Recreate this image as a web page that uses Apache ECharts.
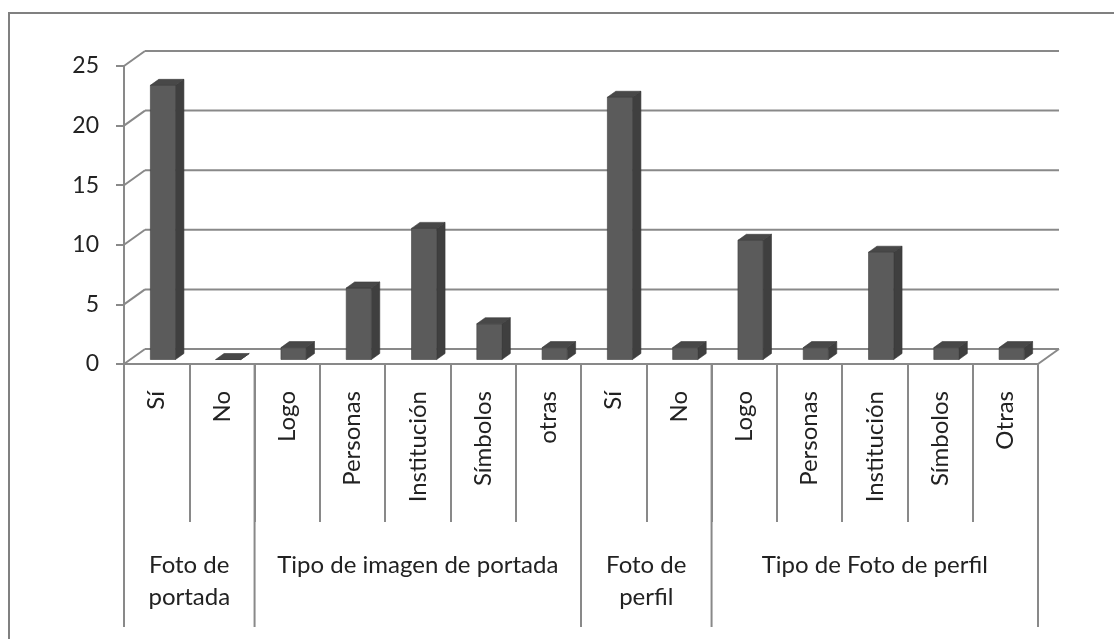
<!DOCTYPE html>
<html>
<head>
<meta charset="utf-8">
<script src="https://cdn.jsdelivr.net/npm/echarts@6/dist/echarts.min.js"></script>
<style>
  html, body { margin: 0; padding: 0; background: #fff; }
  #chart { width: 1114px; height: 639px; }
</style>
</head>
<body>
<div id="chart"></div>
<script>
// categories along the x axis, first level
var categories = ['Sí', 'No', 'Logo', 'Personas', 'Institución', 'Símbolos', 'otras',
                  'Sí', 'No', 'Logo', 'Personas', 'Institución', 'Símbolos', 'Otras'];
var values = [23, 0, 1, 6, 11, 3, 1, 22, 1, 10, 1, 9, 1, 1];
// second level of the axis
var groupNames = ['Foto de\nportada', 'Tipo de imagen de portada', 'Foto de\nperfil', 'Tipo de Foto de perfil'];
var groupSizes = [2, 5, 2, 5];
var yTicks = [0, 5, 10, 15, 20, 25];

var FONT = 'Lato, "Open Sans", sans-serif';
var LINE = '#898989';
// fake depth of the 3D box
var DX = 21, DY = -15;

var groupData = [];
var start = 0;
groupSizes.forEach(function (n, i) {
  groupData.push([start, start + n - 1, i]);
  start += n;
});

var chart = echarts.init(document.getElementById('chart'));

function wallItem(params, api) {
  var p = api.coord([0, api.value(1)]);
  var band = api.size([1, 0])[0];
  var left = p[0] - band / 2;
  var right = left + band * categories.length;
  var children = [
    { type: 'line', shape: { x1: left, y1: p[1], x2: left + DX, y2: p[1] + DY },
      style: { stroke: LINE, lineWidth: 2 } },
    { type: 'line', shape: { x1: left + DX, y1: p[1] + DY, x2: right + DX, y2: p[1] + DY },
      style: { stroke: LINE, lineWidth: 2 } }
  ];
  if (params.dataIndex === 0) {
    children.push({ type: 'line', shape: { x1: right, y1: p[1], x2: right + DX, y2: p[1] + DY },
      style: { stroke: LINE, lineWidth: 2 } });
  }
  return { type: 'group', children: children };
}

function barItem(params, api) {
  var i = api.value(0);
  var top = api.coord([i, api.value(1)]);
  var base = api.coord([i, 0]);
  var band = api.size([1, 0])[0];
  var w = band * 0.385;
  var f0 = 0.3, f1 = 0.7;
  var ox = f0 * DX, oy = f0 * DY;
  var dx = (f1 - f0) * DX, dy = (f1 - f0) * DY;
  var xl = top[0] + ox - w / 2, xr = top[0] + ox + w / 2;
  var yt = top[1] + oy, yb = base[1] + oy;
  return {
    type: 'group',
    children: [
      { type: 'polygon', shape: { points: [[xr, yt], [xr + dx, yt + dy], [xr + dx, yb + dy], [xr, yb]] },
        style: { fill: '#3f3f3f', stroke: '#363636', lineWidth: 0.6 } },
      { type: 'rect', shape: { x: xl, y: yt, width: w, height: yb - yt },
        style: { fill: '#5b5b5b', stroke: '#404040', lineWidth: 0.6 } },
      { type: 'polygon', shape: { points: [[xl, yt], [xr, yt], [xr + dx, yt + dy], [xl + dx, yt + dy]] },
        style: { fill: '#484848', stroke: '#3a3a3a', lineWidth: 0.6 } }
    ]
  };
}

function groupItem(params, api) {
  var a = api.coord([api.value(0), 0]);
  var b = api.coord([api.value(1), 0]);
  var band = api.size([1, 0])[0];
  var left = a[0] - band / 2, right = b[0] + band / 2;
  var y0 = a[1];
  var children = [
    { type: 'line', shape: { x1: left, y1: y0, x2: left, y2: y0 + 263 },
      style: { stroke: LINE, lineWidth: 2 } },
    { type: 'text', style: { text: groupNames[api.value(2)], x: (left + right) / 2, y: y0 + 185,
      align: 'center', verticalAlign: 'top', lineHeight: 32, font: '24px ' + FONT, fill: '#222' } }
  ];
  if (params.dataIndex === groupData.length - 1) {
    children.push({ type: 'line', shape: { x1: right, y1: y0, x2: right, y2: y0 + 263 },
      style: { stroke: LINE, lineWidth: 2 } });
  }
  return { type: 'group', children: children };
}

chart.setOption({
  animation: false,
  graphic: [{
    type: 'polyline',
    shape: { points: [[9, 700], [9, 13], [1200, 13]] },
    style: { stroke: '#808080', lineWidth: 2, fill: null }
  }],
  grid: { left: 124, right: 76, top: 66, bottom: 275 },
  xAxis: {
    type: 'category',
    data: categories,
    axisLine: { show: true, lineStyle: { color: LINE, width: 2 } },
    axisTick: { show: true, interval: 0, length: 158, lineStyle: { color: LINE, width: 2 } },
    axisLabel: { interval: 0, rotate: 90, margin: 27, fontSize: 24, fontFamily: FONT, color: '#222' },
    splitLine: { show: false }
  },
  yAxis: {
    type: 'value',
    min: 0, max: 25, interval: 5,
    axisLine: { show: true, lineStyle: { color: LINE, width: 2 } },
    axisTick: { show: true, length: 8, lineStyle: { color: LINE, width: 2 } },
    axisLabel: { margin: 25, fontSize: 23, fontFamily: FONT, color: '#222', padding: [9, 0, 0, 0] },
    splitLine: { show: false }
  },
  series: [
    { type: 'custom', z: 1, renderItem: wallItem, encode: { x: 0, y: 1 },
      data: yTicks.map(function (v) { return [0, v]; }), silent: true },
    { type: 'custom', z: 3, renderItem: barItem, encode: { x: 0, y: 1 },
      data: values.map(function (v, i) { return [i, v]; }) },
    { type: 'custom', z: 2, renderItem: groupItem, encode: { x: 0 },
      data: groupData, silent: true }
  ]
});
</script>
</body>
</html>
